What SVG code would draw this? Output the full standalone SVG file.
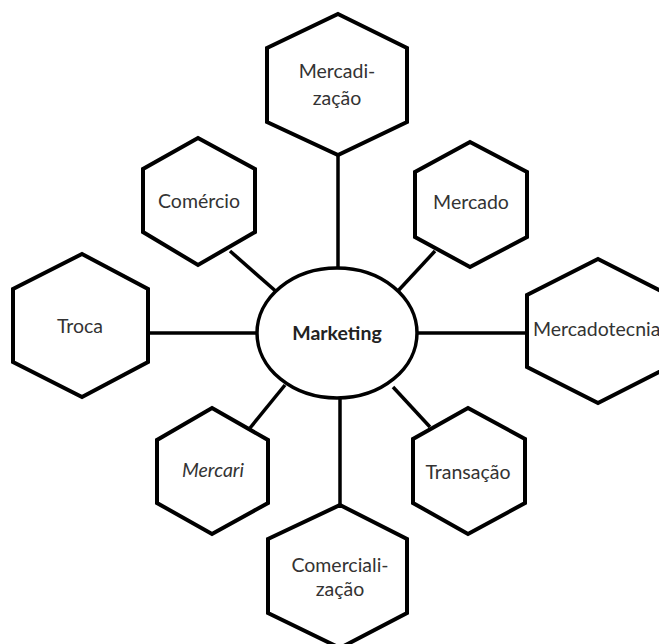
<svg xmlns="http://www.w3.org/2000/svg" width="659" height="644" viewBox="0 0 659 644">
  <style>
    .hex { fill: #ffffff; stroke: #000000; stroke-width: 4; stroke-linejoin: miter; }
    .hub { fill: #ffffff; stroke: #000000; stroke-width: 3.5; }
    .link { stroke: #000000; stroke-width: 3.5; fill: none; }
    .lbl { font-family: Lato, "Liberation Sans", sans-serif; font-size: 19.5px; fill: #333333; text-anchor: middle; dominant-baseline: central; }
    .bold { font-weight: bold; fill: #222222; }
    .ital { font-style: italic; }
  </style>
  <rect width="659" height="644" fill="#ffffff"/>

  <!-- connectors from the hub to each term -->
  <g id="connectors">
    <line class="link" x1="338" y1="155" x2="338" y2="268"/>
    <line class="link" x1="230" y1="251" x2="279" y2="294"/>
    <line class="link" x1="435" y1="251" x2="397" y2="292"/>
    <line class="link" x1="148" y1="333" x2="258" y2="333"/>
    <line class="link" x1="417" y1="333" x2="527" y2="333"/>
    <line class="link" x1="250" y1="428" x2="285" y2="385"/>
    <line class="link" x1="430" y1="427" x2="393" y2="387"/>
    <line class="link" x1="340" y1="398" x2="340" y2="505"/>
  </g>

  <g id="hub">
    <ellipse class="hub" cx="337" cy="333" rx="80" ry="65"/>
    <text class="lbl bold" x="337" y="332">Marketing</text>
  </g>

  <g id="mercadizacao">
    <polygon class="hex" points="338,14 407,48 407,122 338,155 267,122 267,48"/>
    <text class="lbl" x="337" y="70">Mercadi-</text>
    <text class="lbl" x="337" y="97">zação</text>
  </g>

  <g id="comercio">
    <polygon class="hex" points="198,138 255,169 255,232 198,265 143,232 143,169"/>
    <text class="lbl" x="199" y="200">Comércio</text>
  </g>

  <g id="mercado">
    <polygon class="hex" points="470,142 527,172 527,237 470,267 415,237 415,172"/>
    <text class="lbl" x="471" y="201">Mercado</text>
  </g>

  <g id="troca">
    <polygon class="hex" points="82,254 148,289 148,362 82,397 13,362 13,289"/>
    <text class="lbl" x="80" y="325">Troca</text>
  </g>

  <g id="mercadotecnia">
    <polygon class="hex" points="598,259 669,295 669,367 598,403 527,367 527,295"/>
    <text class="lbl" x="533" y="328" style="text-anchor:start">Mercadotecnia</text>
  </g>

  <g id="mercari">
    <polygon class="hex" points="212,408 268,440 268,503 212,534 157,503 157,440"/>
    <text class="lbl ital" x="213" y="469">Mercari</text>
  </g>

  <g id="transacao">
    <polygon class="hex" points="468,408 525,439 525,503 468,534 413,503 413,439"/>
    <text class="lbl" x="468" y="471">Transação</text>
  </g>

  <g id="comercializacao">
    <polygon class="hex" points="340,505 407,539 407,613 340,648 268,613 268,539"/>
    <text class="lbl" x="340" y="564">Comerciali-</text>
    <text class="lbl" x="340" y="588">zação</text>
  </g>
</svg>
